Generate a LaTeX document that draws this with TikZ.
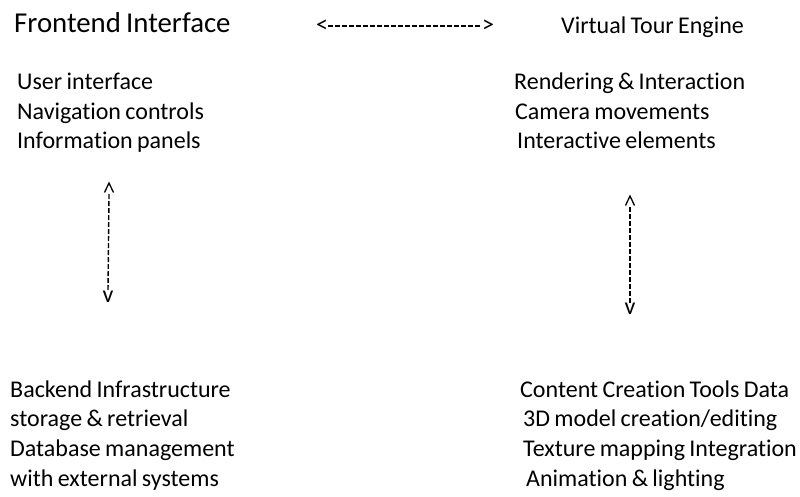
\documentclass[tikz,border=0pt]{standalone}
\usepackage{fontspec}
\setmainfont{Carlito}[Ligatures=NoCommon,WordSpace=0.8]
\begin{document}
\begin{tikzpicture}[x=1pt,y=-1pt,
  title/.style={anchor=base west,inner sep=0pt,font=\fontsize{28.8}{32}\selectfont},
  head/.style={anchor=base west,inner sep=0pt,font=\fontsize{24}{28}\selectfont},
  item/.style={anchor=base west,inner sep=0pt,font=\fontsize{24}{28}\selectfont},
  tip/.style={inner sep=0pt,font=\fontsize{24}{28}\selectfont},
  caret/.style={line width=1.3pt,line join=miter},
  link/.style={dash pattern=on 5pt off 2pt,line width=1.4pt}]
\useasboundingbox (0,0) rectangle (800,496);
% top left
\node[title] (fe) at (14,32) {Frontend Interface};
\node[item] (fe1) at (17,89.5) {User interface};
\node[item] (fe2) at (17,119) {Navigation controls};
\node[item] (fe3) at (17,148.5) {Information panels};
% top right
\node[head] (vt) at (561,33) {Virtual Tour Engine};
\node[item] (vt1) at (514,89.5) {Rendering \& Interaction};
\node[item] (vt2) at (515,119) {Camera movements};
\node[item] (vt3) at (517,148.5) {Interactive elements};
% bottom left
\node[item] (be) at (10,397) {Backend Infrastructure};
\node[item] (be1) at (10,426.5) {storage \& retrieval};
\node[item] (be2) at (10,456) {Database management};
\node[item] (be3) at (10,486) {with external systems};
% bottom right
\node[item] (cc) at (520,397) {Content Creation Tools Data};
\node[item] (cc1) at (523,426.5) {3D model creation/editing};
\node[item] (cc2) at (523,456) {Texture mapping Integration};
\node[item] (cc3) at (526,486) {Animation \& lighting};
% horizontal connector
\node[tip] (hl) at (322,26) {<};
\node[tip] (hr) at (488,26) {>};
\draw[link] (hl.east) -- (hr.west);
% left vertical connector
\coordinate (lu) at (109,183);
\draw[caret] ([shift={(-4.5,9.5)}]lu) -- (lu) -- ([shift={(4.5,9.5)}]lu);
\node[tip] (ld) at (108,297) {v};
\draw[link] ([yshift=-11pt]lu) -- (ld.north);
% right vertical connector
\coordinate (ru) at (630,196);
\draw[caret] ([shift={(-4.5,9.5)}]ru) -- (ru) -- ([shift={(4.5,9.5)}]ru);
\node[tip] (rd) at (630,309) {v};
\draw[link] ([yshift=-11pt]ru) -- (rd.north);
\end{tikzpicture}
\end{document}
